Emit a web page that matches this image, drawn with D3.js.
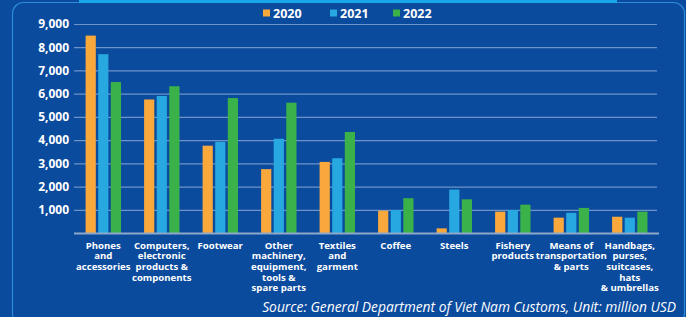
<!DOCTYPE html>
<html><head><meta charset="utf-8">
<script src="https://cdn.jsdelivr.net/npm/d3@7"></script>
<style>
html,body{margin:0;padding:0;background:#0b4b9e;}
svg{display:block;}
</style></head>
<body>
<svg id="chart" width="686" height="317"></svg>
<script>
const categories = [
  ["Phones","and","accessories"],
  ["Computers,","electronic","products &","components"],
  ["Footwear"],
  ["Other","machinery,","equipment,","tools &","spare parts"],
  ["Textiles","and","garment"],
  ["Coffee"],
  ["Steels"],
  ["Fishery","products"],
  ["Means of","transportation","& parts"],
  ["Handbags,","purses,","suitcases,","hats","& umbrellas"]
];
const years = ["2020","2021","2022"];
const values2020 = [8500, 5750, 3760, 2750, 3060, 960, 200, 920, 660, 700];
const values2021 = [7700, 5900, 3930, 4060, 3220, 990, 1870, 990, 870, 660];
const values2022 = [6500, 6320, 5810, 5610, 4350, 1500, 1450, 1220, 1080, 920];
const yTicks = [1000,2000,3000,4000,5000,6000,7000,8000,9000];
const colors = ["#f9a83c", "#27a8e1", "#3bb14a"];
const sourceText = "Source: General Department of Viet Nam Customs, Unit: million USD";

const series = [values2020, values2021, values2022];
const font = "'Open Sans', sans-serif";
const svg = d3.select("#chart");

// background panel
svg.append("rect").attr("x",0).attr("y",0).attr("width",686).attr("height",317).attr("fill","#0b4b9e");
svg.append("rect").attr("x",12.5).attr("y",2.5).attr("width",672).attr("height",322).attr("rx",11)
  .attr("fill","#0b4b9e").attr("stroke","#2b8bd9").attr("stroke-width",1.2);
svg.append("rect").attr("x",79).attr("y",0).attr("width",538).attr("height",3).attr("fill","#17a6ea");

const x0 = d3.scaleBand().domain(d3.range(categories.length)).range([74, 659]).padding(0);
const x1 = d3.scaleBand().domain(years).range([11.6, 47.0]).paddingInner(0.19);
const y = d3.scaleLinear().domain([0, 9000]).range([233, 24]);

// gridlines
const grid = svg.append("g").attr("transform","translate(74,0)")
  .call(d3.axisLeft(y).tickValues(yTicks).tickSize(-583).tickFormat(""));
grid.select(".domain").remove();
grid.selectAll("line").attr("stroke","#6d93c8").attr("stroke-width",1.2);

// y labels
const yAxis = svg.append("g").attr("transform","translate(69,0)")
  .call(d3.axisLeft(y).tickValues(yTicks).tickSize(0).tickPadding(0).tickFormat(d3.format(",")));
yAxis.select(".domain").remove();
yAxis.selectAll("text").attr("fill","#ffffff").attr("font-family",font).attr("font-weight","bold")
  .attr("font-size","12px");

// bars
const groups = svg.append("g").selectAll("g").data(categories).join("g")
  .attr("transform",(d,i)=>`translate(${x0(i)},0)`);
groups.selectAll("rect").data((d,i)=>years.map((yr,j)=>({yr, v: series[j][i], j})))
  .join("rect")
  .attr("x",d=>x1(d.yr)).attr("width",x1.bandwidth())
  .attr("y",d=>y(d.v)).attr("height",d=>y(0)-y(d.v))
  .attr("fill",d=>colors[d.j]);

// baseline
svg.append("line").attr("x1",74).attr("x2",659).attr("y1",y(0)+0.5).attr("y2",y(0)+0.5)
  .attr("stroke","#8ea8c9").attr("stroke-width",2);

// category labels
groups.append("text")
  .attr("text-anchor","middle").attr("fill","#ffffff").attr("font-family",font)
  .attr("font-weight","bold").attr("font-size","9.6px")
  .each(function(d){
    const t = d3.select(this);
    d.forEach((line,k)=>{
      t.append("tspan").attr("x",x0.bandwidth()/2).attr("y",248.8+k*10.6).text(line);
    });
  });

// legend
const legX = [263, 330, 393];
const leg = svg.append("g").selectAll("g").data(years).join("g")
  .attr("transform",(d,i)=>`translate(${legX[i]},0)`);
leg.append("rect").attr("x",0).attr("y",9.5).attr("width",7).attr("height",7).attr("fill",(d,i)=>colors[i]);
leg.append("text").attr("x",10).attr("y",18).attr("fill","#ffffff").attr("font-family",font)
  .attr("font-weight","bold").attr("font-size","12.5px").text(d=>d);

// source
svg.append("text").attr("x",676).attr("y",312).attr("text-anchor","end")
  .attr("fill","#ffffff").attr("font-family",font).attr("font-style","italic")
  .attr("font-size","13.8px").text(sourceText);
</script>
</body></html>
